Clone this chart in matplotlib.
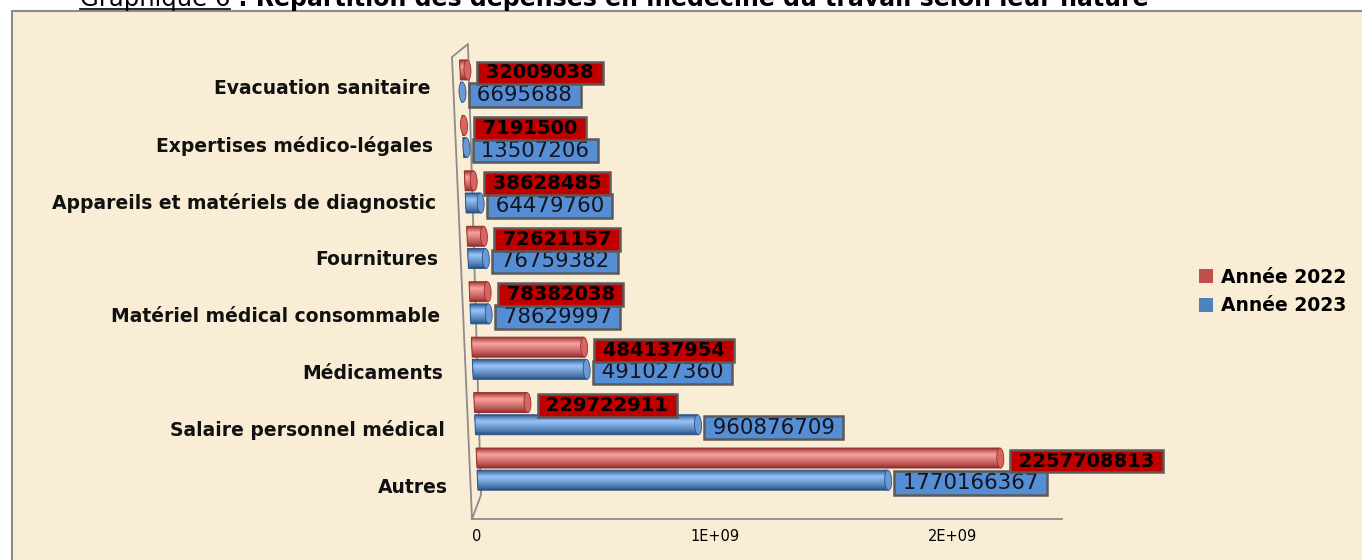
import numpy as np
import matplotlib
matplotlib.use('Agg')
import matplotlib.pyplot as plt
from matplotlib.patches import Rectangle, Ellipse, Patch
from matplotlib.lines import Line2D
from matplotlib.transforms import Affine2D
from matplotlib.colors import to_rgb

W, H = 1362, 560

# data (bottom to top)
categories = ['Autres', 'Salaire personnel médical', 'Médicaments',
              'Matériel médical consommable', 'Fournitures',
              'Appareils et matériels de diagnostic',
              'Expertises médico-légales', 'Evacuation sanitaire']
val_2022 = [2257708813, 229722911, 484137954, 78382038, 72621157,
            38628485, 7191500, 32009038]
val_2023 = [1770166367, 960876709, 491027360, 78629997, 76759382,
            64479760, 13507206, 6695688]
tick_vals = [0, 1e9, 2e9]
tick_labels = ['0', '1E+09', '2E+09']

paper = '#FAEDD5'
grey = '#8c8c8c'

fig = plt.figure(figsize=(W / 100, H / 100), dpi=100)
fig.patch.set_facecolor('white')

# chart frame
fig.add_artist(Rectangle((12 / W, -0.01), 1.0, (H - 11) / H + 0.01,
                         transform=fig.transFigure, fc=paper, ec=grey,
                         lw=1.5, zorder=-2))

# title, cut off at the top like in the source
t1 = fig.text(80 / W, 1 - 6 / H, 'Graphique 6', fontsize=17.5, va='baseline')
fig.canvas.draw()
bb = t1.get_window_extent()
fig.add_artist(Line2D([bb.x0 / W, bb.x1 / W], [1 - 9 / H, 1 - 9 / H],
                      transform=fig.transFigure, color='black', lw=1.2))
fig.text(bb.x1 / W, 1 - 6 / H,
         ' : Répartition des dépenses en médecine du travail selon leur nature',
         fontsize=17, fontweight='bold', va='baseline')

ax = fig.add_axes([477 / W, (H - 519) / H, 580 / W, (519 - 45) / H])
ax.patch.set_alpha(0)
for s in ax.spines.values():
    s.set_visible(False)

# slanted 3D look: shear in display space
skew = Affine2D().translate(0, -91).skew(np.arctan(-0.0426), 0).translate(0, 91)
tr = ax.transData + skew

h = 0.36
cap_w = 3.0e7
n_layers = 10

series = [
    (val_2022, 0.2, '#962F2C', '#F59C99', '#D66562'),
    (val_2023, -0.2, '#2A5488', '#92BFF4', '#6A9AD6'),
]

for vals, off, dark, light, capc in series:
    ys = np.arange(len(categories)) + off
    d = np.array(to_rgb(dark))
    l = np.array(to_rgb(light))
    # cylinder shading: stacked thinner and lighter bars
    for k in range(n_layers):
        frac = 1 - k / n_layers
        hk = h * frac
        yk = ys - h / 2 + hk / 2 + (h - hk) * 0.68
        col = d + (l - d) * (k / (n_layers - 1)) ** 0.8
        ax.barh(yk, vals, height=hk, color=col, lw=0, transform=tr,
                zorder=2, clip_on=False)
    ax.barh(ys, vals, height=h, fc='none', ec=dark, lw=0.7,
            transform=tr, zorder=3, clip_on=False)
    for v, y in zip(vals, ys):
        ax.add_patch(Ellipse((v, y), cap_w, h, transform=tr, fc=capc,
                             ec=dark, lw=0.6, zorder=3, clip_on=False))

# value labels and category names
for i in range(len(categories)):
    ax.annotate(' %d ' % val_2023[i], (val_2023[i], i - 0.2), xycoords=tr,
                xytext=(8, -3), textcoords='offset pixels', ha='left',
                va='center', fontsize=15.3, color='#14141e', zorder=5,
                bbox=dict(boxstyle='square,pad=0.08', fc='#558ED5',
                          ec='#5a5a5a', lw=1.8), annotation_clip=False)
    ax.annotate(' %d ' % val_2022[i], (val_2022[i], i + 0.2), xycoords=tr,
                xytext=(12, -3), textcoords='offset pixels', ha='left',
                va='center', fontsize=14, fontweight='bold', color='black',
                zorder=6,
                bbox=dict(boxstyle='square,pad=0.1', fc='#C00000',
                          ec='#5a5a5a', lw=1.8), annotation_clip=False)
    ax.annotate(categories[i], (0, i * 1.026 - 0.325), xycoords=tr,
                xytext=(-30, 0), textcoords='offset pixels', ha='right',
                va='center', fontsize=13.5, fontweight='bold',
                color='#111111', annotation_clip=False)

ax.set_xlim(0, 2.5e9)
ax.set_ylim(-0.9, 7.65)
ax.set_yticks([])
ax.set_xticks([])

# front edge of the floor is a bit wider (perspective)
sec = ax.secondary_xaxis('bottom', functions=(lambda x: x / 1.025,
                                              lambda x: x * 1.025))
sec.set_xticks(tick_vals)
sec.set_xticklabels(tick_labels, fontsize=10.5)
sec.tick_params(axis='x', length=0, pad=7)
sec.spines['bottom'].set_visible(False)


# floor and side wall outline (behind the bars)
def fig_line(px, py):
    fig.add_artist(Line2D(np.array(px) / W, 1 - np.array(py) / H,
                          transform=fig.transFigure, color=grey, lw=1.3,
                          zorder=-1))


fig_line([1062, 472, 452, 468, 481, 472], [519, 519, 57, 44, 495, 519])

handles = [Patch(fc='#C0504D', label='Année 2022'),
           Patch(fc='#4F81BD', label='Année 2023')]
fig.legend(handles=handles, loc='upper left',
           bbox_to_anchor=(1182 / W, 1 - 251 / H), frameon=False,
           prop=dict(weight='bold', size=13.5), handlelength=0.75,
           handleheight=0.75, labelspacing=0.5, handletextpad=0.45)

fig.savefig('out.png', dpi=100)
